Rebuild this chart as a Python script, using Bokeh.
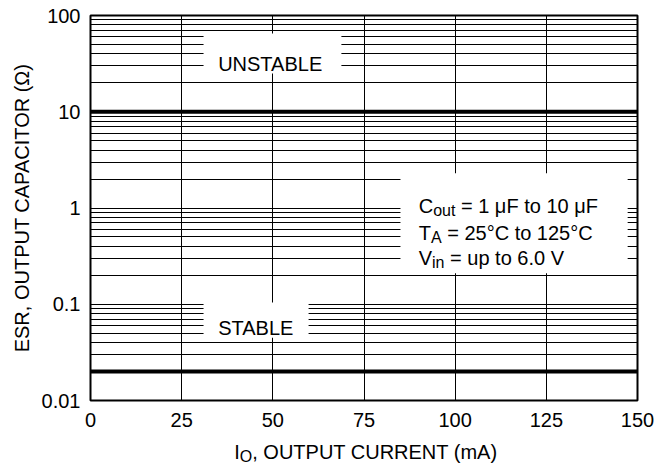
from bokeh.plotting import figure
from bokeh.layouts import column
from bokeh.models import (FixedTicker, CustomJSTickFormatter, BoxAnnotation, Span,
                          Label, Range1d)
from bokeh.embed import file_html
from bokeh.resources import INLINE

# ---------------- data ----------------
x_ticks = [0, 25, 50, 75, 100, 125, 150]
x_tick_labels = ["0", "25", "50", "75", "100", "125", "150"]
y_decades = [0.01, 0.1, 1, 10, 100]
y_tick_labels = ["0.01", "0.1", "1", "10", "100"]
x_limits = [0, 150]
y_limits = [0.01, 100]
unstable_boundary_esr = 10.0     # above: unstable
stable_boundary_esr = 0.02       # below: stable

FONT = "Liberation Sans"
MAIN = 20
SUB = 16

# Arial / Liberation Sans advance widths (em)
W = {' ': .278, ',': .278, '.': .278, '=': .584, '(': .333, ')': .333, '°': .4,
     'μ': .576, 'A': .667, 'B': .667, 'C': .722, 'E': .667, 'F': .611, 'I': .278,
     'L': .556, 'M': .833, 'N': .722, 'O': .778, 'P': .667, 'R': .722, 'S': .667,
     'T': .611, 'U': .722, 'V': .667, 'a': .556, 'i': .222, 'm': .833, 'n': .556,
     'o': .556, 'p': .556, 't': .278, 'u': .556}


def tw(s, size):
    return sum(W.get(c, .556) for c in s) * size


TOP_H = 435
p = figure(width=666, height=TOP_H,
           x_range=Range1d(*x_limits), y_range=Range1d(*y_limits),
           y_axis_type="log", output_backend="svg", toolbar_location=None,
           min_border_left=90, min_border_right=29, min_border_top=15,
           min_border_bottom=35, background_fill_color="white",
           border_fill_color="white")

minor = [m * d for d in y_decades[:-1] for m in range(2, 10)]
xt = FixedTicker(ticks=x_ticks)
yt = FixedTicker(ticks=y_decades, minor_ticks=minor)
p.xaxis.ticker = xt
p.yaxis.ticker = yt
p.xgrid.ticker = xt
p.ygrid.ticker = yt

p.xaxis.formatter = CustomJSTickFormatter(
    args=dict(vals=x_ticks, labs=x_tick_labels),
    code="const i = vals.indexOf(tick); return i >= 0 ? labs[i] : '';")
p.yaxis.formatter = CustomJSTickFormatter(
    args=dict(vals=y_decades, labs=y_tick_labels),
    code="const i = vals.findIndex(v => Math.abs(Math.log10(v) - Math.log10(tick)) < 1e-6); return i >= 0 ? labs[i] : '';")

for ax in (p.xaxis[0], p.yaxis[0]):
    ax.major_tick_out = 0
    ax.major_tick_in = 0
    ax.minor_tick_out = 0
    ax.minor_tick_in = 0
    ax.axis_line_color = None
    ax.major_label_text_font = FONT
    ax.major_label_text_font_size = f"{MAIN}px"
    ax.major_label_text_color = "black"

p.xaxis.major_label_standoff = 12
p.yaxis.major_label_standoff = 10
p.yaxis.axis_label = "ESR, OUTPUT CAPACITOR (Ω)"
p.yaxis.axis_label_text_font = FONT
p.yaxis.axis_label_text_font_size = f"{MAIN}px"
p.yaxis.axis_label_text_font_style = "normal"
p.yaxis.axis_label_text_color = "black"
p.yaxis.axis_label_standoff = 6

p.xgrid.grid_line_color = "black"
p.xgrid.grid_line_width = 1
p.ygrid.grid_line_color = "black"
p.ygrid.grid_line_width = 1
p.ygrid.minor_grid_line_color = "black"
p.ygrid.minor_grid_line_width = 1

p.outline_line_color = "black"
p.outline_line_width = 2

# white boxes behind the annotations
for l, r, b, t in [(31.0, 68.8, 25, 65), (31.0, 59.8, 0.045, 0.104), (85.0, 147.3, 0.21, 2.3)]:
    p.add_layout(BoxAnnotation(left=l, right=r, bottom=b, top=t, fill_color="white",
                               fill_alpha=1.0, line_color=None))

# stability boundaries
for loc in (unstable_boundary_esr, stable_boundary_esr):
    p.add_layout(Span(location=loc, dimension="width", line_color="black", line_width=4))


def runs(fig, x, y, pieces, dx0=0, dy0=0):
    off = dx0
    for text, size, dy in pieces:
        stripped = text.lstrip()
        off += tw(text[:len(text) - len(stripped)], size)
        fig.add_layout(Label(x=x, y=y, x_offset=off, y_offset=dy0 + dy, text=stripped,
                             text_font=FONT, text_font_size=f"{size}px",
                             text_color="black", text_align="left",
                             text_baseline="alphabetic"))
        off += tw(stripped, size)


runs(p, 35, 31.5, [("UNSTABLE", MAIN, 0)])
runs(p, 35, 0.0569, [("STABLE", MAIN, 0)])

runs(p, 90, 1.06, [("C", MAIN, 0), ("out", SUB, -5), (" = 1 μF to 10 μF", MAIN, 0)])
runs(p, 90, 1.06, [("T", MAIN, 0), ("A", SUB, -5), (" = 25°C to 125°C", MAIN, 0)], dy0=-27)
runs(p, 90, 1.06, [("V", MAIN, 0), ("in", SUB, -5), (" = up to 6.0 V", MAIN, 0)], dy0=-52)

# x-axis title with subscript, drawn in a text strip under the chart
STRIP_H = 467 - TOP_H
q = figure(width=666, height=STRIP_H, x_range=p.x_range, y_range=Range1d(0, 1),
           output_backend="svg", toolbar_location=None,
           x_axis_location=None, y_axis_location=None,
           min_border_left=90, min_border_right=29, min_border_top=0,
           min_border_bottom=0, outline_line_color=None,
           background_fill_color="white", border_fill_color="white")
q.grid.visible = False
xl = [("I", MAIN, 0), ("O", SUB, -5), (", OUTPUT CURRENT (mA)", MAIN, 0)]
total = sum(tw(t, s) for t, s, _ in xl)
runs(q, sum(x_limits) / 2, 1 - 16.0 / STRIP_H, xl, dx0=-total / 2 + 2)

open("out.html", "w").write(file_html(column(p, q, spacing=0), INLINE))
